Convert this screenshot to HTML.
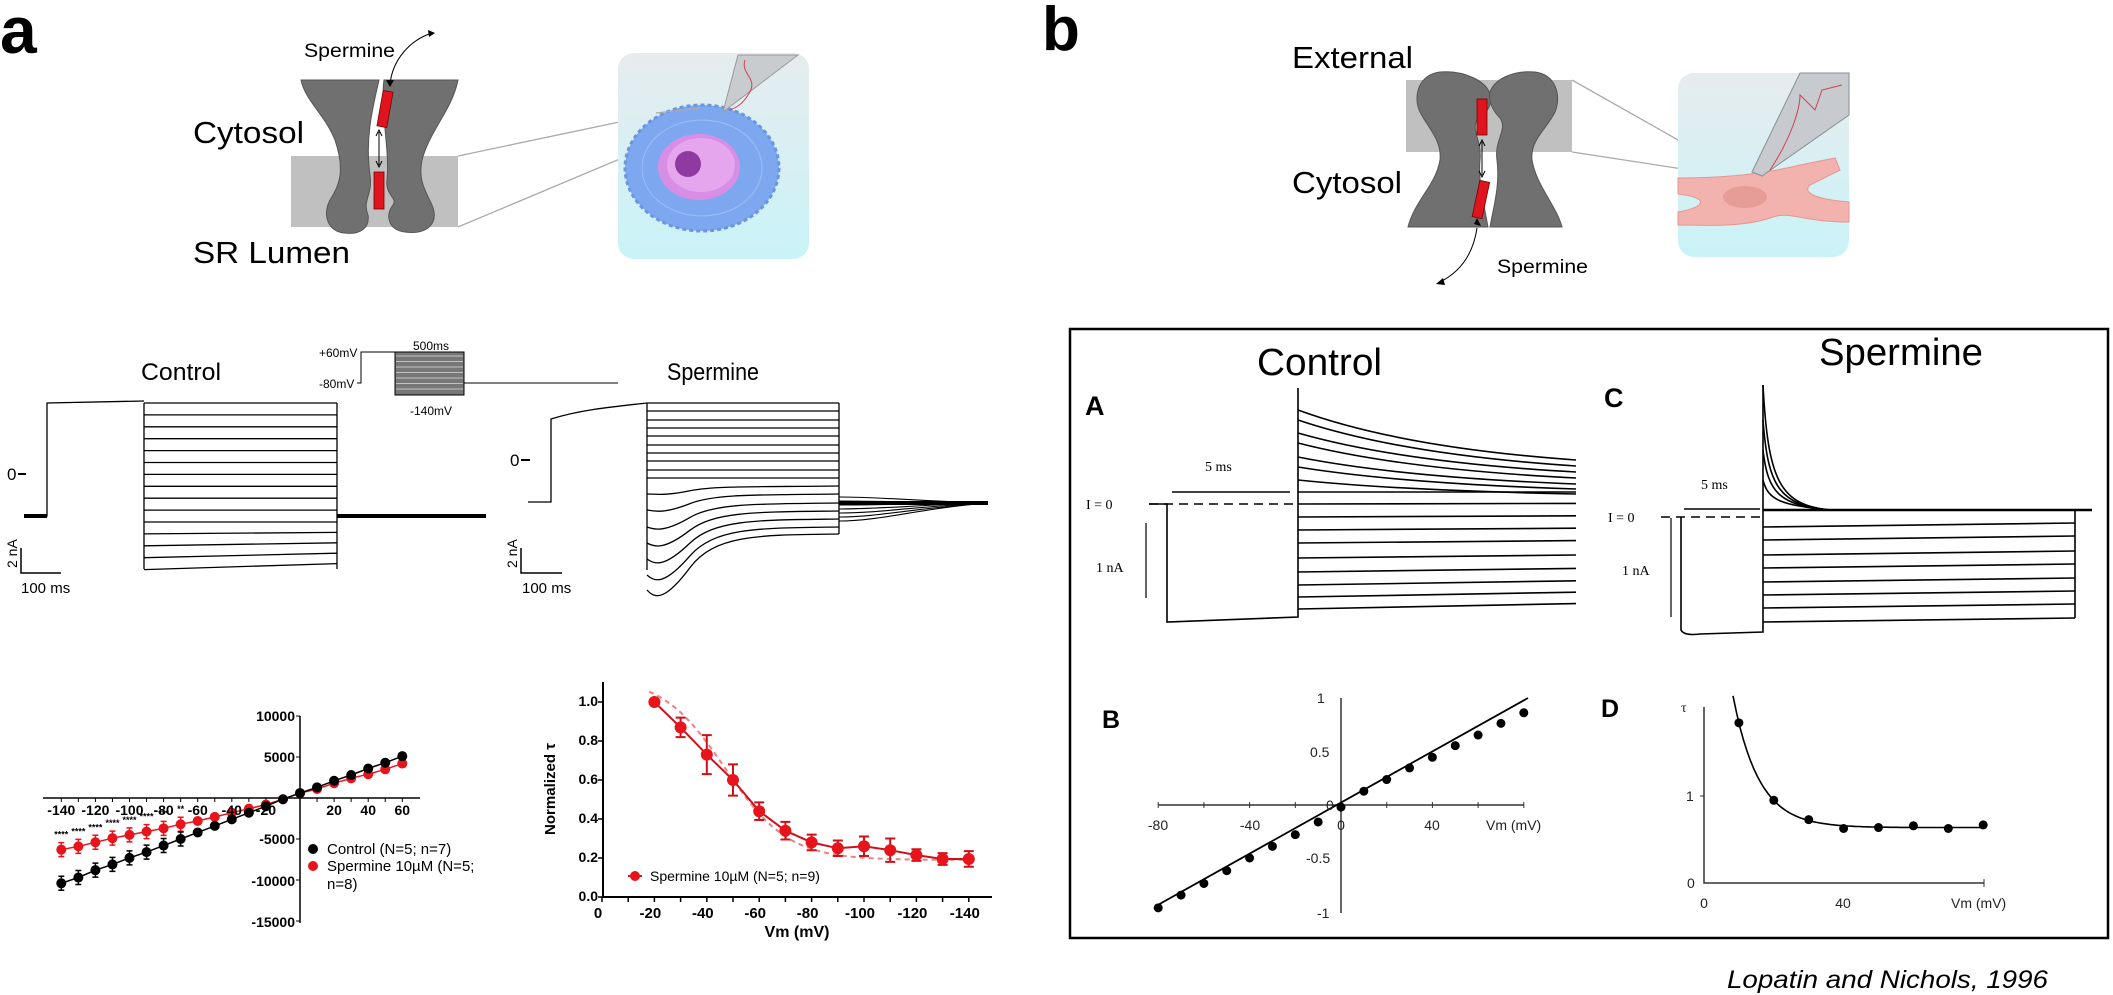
<!DOCTYPE html>
<html><head><meta charset="utf-8">
<style>
html,body{margin:0;padding:0;background:#fff;}
svg{display:block;font-family:"Liberation Sans",Arial,sans-serif;}
</style></head>
<body>
<svg id="s" width="2113" height="995" viewBox="0 0 2113 995" xmlns="http://www.w3.org/2000/svg">
<rect width="2113" height="995" fill="#fff"/>
<defs>
<linearGradient id="bgA" x1="0" y1="0" x2="0" y2="1"><stop offset="0" stop-color="#e6ecee"/><stop offset="1" stop-color="#c9f3f8"/></linearGradient>
</defs>

<text x="0" y="53" font-size="66" font-weight="bold">a</text>
<text x="1042" y="50" font-size="62" font-weight="bold">b</text>

<rect x="291" y="156" width="167" height="71" fill="#c0c0c0"/>
<path d="M301,80 L379,80 C372,110 365,140 370,175 C373,195 362,200 368,215 C370,228 360,235 345,233 C328,232 322,215 330,200 C340,185 345,170 335,140 C325,115 305,100 301,80 Z" fill="#707070" stroke="#555" stroke-width="1"/>
<path d="M384,80 L458,80 C452,110 430,130 422,160 C418,180 425,190 432,205 C440,225 425,235 405,232 C388,230 385,215 393,205 C398,198 385,195 387,180 C390,150 380,110 384,80 Z" fill="#707070" stroke="#555" stroke-width="1"/>
<rect x="380" y="91" width="10" height="36" fill="#e0141e" stroke="#700" stroke-width="0.8" transform="rotate(10 385 109)"/>
<rect x="374" y="172" width="10" height="37" fill="#e0141e" stroke="#700" stroke-width="0.8"/>
<path d="M379,132 L379,165" stroke="#000" stroke-width="1"/>
<path d="M376,136 L379,130 L382,136 M376,161 L379,167 L382,161" fill="none" stroke="#000" stroke-width="1"/>
<path d="M390,85 C392,60 410,40 432,33" fill="none" stroke="#000" stroke-width="1"/>
<path d="M386,80 L390,87 L394,80 Z M428,30 L435,33 L429,37Z" fill="#000"/>
<text x="304" y="57" font-size="19" textLength="91" lengthAdjust="spacingAndGlyphs">Spermine</text>
<text x="193" y="143" font-size="31" textLength="111" lengthAdjust="spacingAndGlyphs">Cytosol</text>
<text x="193" y="263" font-size="31" textLength="157" lengthAdjust="spacingAndGlyphs">SR Lumen</text>
<path d="M458,156 L662,113 M458,227 L665,140" stroke="#aaa" stroke-width="1.3"/>
<rect x="618" y="53" width="191" height="206" rx="16" fill="url(#bgA)"/>
<ellipse cx="702" cy="168" rx="77" ry="63" fill="#7da8f0" stroke="#6b95e0" stroke-width="3" stroke-dasharray="4 3"/>
<ellipse cx="702" cy="168" rx="60" ry="48" fill="none" stroke="#9dbdf5" stroke-width="1"/>
<ellipse cx="699" cy="167" rx="41" ry="33" fill="#d98ee6"/>
<ellipse cx="701" cy="165" rx="34" ry="27" fill="#e5a6ee"/>
<circle cx="688" cy="164" r="13" fill="#8e3aa0"/>
<path d="M723,112 L738,55 L798,55 Z" fill="#c9cccf" stroke="#999" stroke-width="1"/>
<path d="M745,60 C740,75 760,78 748,95 C742,105 735,108 730,110" fill="none" stroke="#d04050" stroke-width="1"/>
<path d="M656,113 L700,108" stroke="#aaa" stroke-width="1.2"/>

<text x="141" y="380" font-size="24" textLength="80" lengthAdjust="spacingAndGlyphs">Control</text>
<text x="667" y="380" font-size="24" textLength="92" lengthAdjust="spacingAndGlyphs">Spermine</text>
<text x="319" y="357" font-size="12">+60mV</text>
<text x="319" y="388" font-size="12">-80mV</text>
<text x="413" y="350" font-size="12">500ms</text>
<text x="410" y="415" font-size="12">-140mV</text>
<path d="M357,383 L361,383 L361,352 L395,352 M464,383 L618,383" fill="none" stroke="#000" stroke-width="1"/>
<rect x="395" y="352" width="69" height="43" fill="#777" stroke="#000" stroke-width="1"/>
<g id="protoLines" stroke="#ddd" stroke-width="0.8"></g>
<g id="ctrlA" fill="none" stroke="#000" stroke-width="1.3"></g>
<g id="sperA" fill="none" stroke="#000" stroke-width="1.3"></g>
<text x="7" y="480" font-size="17">0</text><path d="M18,474 L26,474" stroke="#000" stroke-width="2"/>
<text x="510" y="466" font-size="17">0</text><path d="M521,460 L530,460" stroke="#000" stroke-width="2"/>
<text transform="translate(17,568) rotate(-90)" font-size="14">2 nA</text>
<path d="M21,548 L21,573 L61,573" fill="none" stroke="#000" stroke-width="1.5"/>
<text x="21" y="593" font-size="15">100 ms</text>
<text transform="translate(517,568) rotate(-90)" font-size="14">2 nA</text>
<path d="M521,548 L521,573 L562,573" fill="none" stroke="#000" stroke-width="1.5"/>
<text x="522" y="593" font-size="15">100 ms</text>

<g id="iv"></g>
<g font-size="14" fill="#000" font-weight="bold" text-anchor="end">
<text x="295" y="721">10000</text><text x="295" y="762">5000</text>
<text x="295" y="844">-5000</text><text x="295" y="886">-10000</text><text x="295" y="927">-15000</text>
</g>
<g font-size="14" font-weight="bold" text-anchor="middle" id="ivx"></g>
<circle cx="313" cy="849" r="5"/>
<circle cx="313" cy="866" r="5" fill="#e8141c"/>
<g font-size="15">
<text x="327" y="854">Control (N=5; n=7)</text>
<text x="327" y="871">Spermine 10µM  (N=5;</text>
<text x="327" y="889">n=8)</text>
</g>

<g id="tau"></g>
<g font-size="14" font-weight="bold" text-anchor="end">
<text x="598" y="706">1.0</text><text x="598" y="745">0.8</text><text x="598" y="784">0.6</text>
<text x="598" y="823">0.4</text><text x="598" y="862">0.2</text><text x="598" y="901">0.0</text>
</g>
<g font-size="15" font-weight="bold" text-anchor="middle" id="taux"></g>
<text transform="translate(555,835) rotate(-90)" font-size="15" font-weight="bold" textLength="92" lengthAdjust="spacingAndGlyphs">Normalized τ</text>
<text x="797" y="937" font-size="16" font-weight="bold" text-anchor="middle">Vm (mV)</text>
<path d="M628,876 L642,876" stroke="#e8141c" stroke-width="2"/><circle cx="635" cy="876" r="5" fill="#e8141c"/>
<text x="650" y="881" font-size="14">Spermine 10µM (N=5; n=9)</text>

<rect x="1406" y="80" width="166" height="72" fill="#c0c0c0"/>
<path d="M1440,72 C1420,74 1412,95 1420,112 C1428,128 1442,140 1440,160 C1436,185 1415,200 1408,227 L1488,227 C1484,205 1478,180 1480,160 C1482,140 1470,130 1478,118 C1488,112 1492,105 1490,95 C1488,82 1465,70 1440,72 Z" fill="#707070" stroke="#555" stroke-width="1"/>
<path d="M1535,72 C1555,74 1562,95 1555,112 C1546,130 1530,140 1532,160 C1536,185 1556,205 1562,227 L1490,227 C1494,205 1500,185 1497,160 C1494,140 1508,130 1500,118 C1492,110 1488,100 1490,92 C1494,80 1512,70 1535,72 Z" fill="#707070" stroke="#555" stroke-width="1"/>
<rect x="1477" y="99" width="10" height="36" fill="#e0141e" stroke="#700" stroke-width="0.8"/>
<rect x="1476" y="181" width="10" height="37" fill="#e0141e" stroke="#700" stroke-width="0.8" transform="rotate(12 1481 199)"/>
<path d="M1482,142 L1482,175" stroke="#000" stroke-width="1"/>
<path d="M1479,146 L1482,140 L1485,146 M1479,171 L1482,177 L1485,171" fill="none" stroke="#000" stroke-width="1"/>
<path d="M1477,228 C1473,255 1460,272 1440,282" fill="none" stroke="#000" stroke-width="1"/>
<path d="M1474,224 L1477,218 L1481,226Z M1443,278 L1436,284 L1445,285Z" fill="#000"/>
<text x="1292" y="68" font-size="31" textLength="121" lengthAdjust="spacingAndGlyphs">External</text>
<text x="1292" y="193" font-size="31" textLength="110" lengthAdjust="spacingAndGlyphs">Cytosol</text>
<text x="1497" y="273" font-size="19" textLength="91" lengthAdjust="spacingAndGlyphs">Spermine</text>
<path d="M1572,80 L1740,175 M1572,152 L1735,177" stroke="#aaa" stroke-width="1.3"/>
<rect x="1678" y="73" width="171" height="184" rx="16" fill="url(#bgA)"/>
<path d="M1678,178 C1720,178 1760,175 1800,165 L1835,158 L1840,170 L1810,185 C1800,195 1825,200 1849,202 L1849,222 C1800,222 1790,210 1770,218 C1740,228 1700,225 1678,225 L1678,212 C1700,208 1712,200 1685,195 L1678,194 Z" fill="#f2b3ae" stroke="#e49690" stroke-width="1"/>
<ellipse cx="1745" cy="197" rx="22" ry="11" fill="#e69d98"/>
<path d="M1752,172 L1800,73 L1849,73 L1849,115 L1762,176 Z" fill="#c7cbcf" stroke="#8a8f94" stroke-width="1"/>
<path d="M1770,170 C1790,140 1800,110 1800,95 L1815,110 L1822,90 L1842,85" fill="none" stroke="#d04050" stroke-width="1"/>

<rect x="1070" y="329" width="1038" height="609" fill="none" stroke="#000" stroke-width="2.5"/>
<text x="1257" y="375" font-size="38" textLength="125" lengthAdjust="spacingAndGlyphs">Control</text>
<text x="1819" y="365" font-size="38" textLength="164" lengthAdjust="spacingAndGlyphs">Spermine</text>
<text x="1085" y="415" font-size="27" font-weight="bold">A</text>
<text x="1604" y="407" font-size="27" font-weight="bold">C</text>
<text x="1102" y="728" font-size="25" font-weight="bold">B</text>
<text x="1601" y="717" font-size="25" font-weight="bold">D</text>
<g font-family="Liberation Serif,serif" font-size="14">
<text x="1086" y="509">I = 0</text>
<text x="1205" y="471">5 ms</text>
<text x="1096" y="572">1 nA</text>
<text x="1608" y="522">I = 0</text>
<text x="1701" y="489">5 ms</text>
<text x="1622" y="575">1 nA</text>
</g>
<g id="bA" fill="none" stroke="#000" stroke-width="1.6"></g>
<g id="bC" fill="none" stroke="#000" stroke-width="1.6"></g>
<g id="bB"></g>
<g id="bD"></g>
<g font-family="Liberation Sans Narrow,Liberation Sans,sans-serif" font-size="14" fill="#222">
<text x="1317" y="703">1</text>
<text x="1310" y="757">0.5</text>
<text x="1326" y="810">0</text>
<text x="1306" y="863">-0.5</text>
<text x="1317" y="918">-1</text>
<text x="1158" y="830" text-anchor="middle">-80</text>
<text x="1250" y="830" text-anchor="middle">-40</text>
<text x="1341" y="830" text-anchor="middle">0</text>
<text x="1432" y="830" text-anchor="middle">40</text>
<text x="1486" y="830">Vm (mV)</text>
<text x="1681" y="712" font-family="Liberation Serif,serif">τ</text>
<text x="1686" y="801">1</text>
<text x="1687" y="888">0</text>
<text x="1704" y="908" text-anchor="middle">0</text>
<text x="1843" y="908" text-anchor="middle">40</text>
<text x="1951" y="908">Vm (mV)</text>
</g>
<text x="1727" y="988" font-size="25" font-style="italic" textLength="321" lengthAdjust="spacingAndGlyphs">Lopatin and Nichols, 1996</text>
</svg>
<script>
const NS="http://www.w3.org/2000/svg";
function el(par,tag,attrs){const e=document.createElementNS(NS,tag);for(const k in attrs)e.setAttribute(k,attrs[k]);document.getElementById(par).appendChild(e);return e;}
function P(par,d,extra){return el(par,"path",Object.assign({d:d},extra||{}));}
for(let i=0;i<7;i++){P("protoLines","M396,"+(356+i*5.5)+" L463,"+(356+i*5.5));}
P("ctrlA","M24,516 L47,516 L47,403 L144,401",{});
P("ctrlA","M24,516 L47,516",{ "stroke-width":4});
for(let i=0;i<15;i++){let y=403+i*11.9;let d="M144,"+y.toFixed(1)+" L337,"+(y-(i>10?(i-10)*1.5:0)).toFixed(1);P("ctrlA",d);}
P("ctrlA","M144,403 L144,569 M337,403 L337,569");
P("ctrlA","M337,516 L486,516",{"stroke-width":4});
P("sperA","M528,502 L551,502 L551,419 C580,410 610,407 647,403");
const flat=[403,411,420,428,436,445,453,461,470,478];
flat.forEach(y=>P("sperA","M647,"+y+" L839,"+y));
const ends=[486,494,503,511,519,527,534];
for(let i=0;i<7;i++){const e=ends[i];const s=e+8+i*8;const dip=s+i*1.5;
 P("sperA","M647,"+s+" C655,"+dip+" 665,"+(dip+2)+" 690,"+(e+(s-e)*0.6)+" S760,"+(e+1)+" 839,"+e);}
P("sperA","M647,403 L647,570 M839,403 L839,534");
for(let i=0;i<7;i++){const y0=497+i*4;P("sperA","M839,"+y0+" C880,"+y0+" 920,"+(503+(y0-503)*0.3)+" 988,503",{"stroke-width":1.1});}
P("sperA","M839,503 L988,503",{"stroke-width":4});
const xv=v=>300+v*1.705, yI=I=>798-I*0.0082;
P("iv","M43,798 L420,798 M300,716 L300,923",{stroke:"#000","stroke-width":1.5,fill:"none"});
for(let v=-140;v<=60;v+=10){P("iv","M"+xv(v)+",798 L"+xv(v)+",802",{stroke:"#000","stroke-width":1});}
[10000,5000,-5000,-10000,-15000].forEach(I=>P("iv","M296,"+yI(I)+" L300,"+yI(I),{stroke:"#000"}));
[-140,-120,-100,-80,-60,-40,-20,20,40,60].forEach(v=>{const t=el("ivx","text",{x:xv(v),y:815});t.textContent=v;});
const ctl={"-140":-10400,"-130":-9700,"-120":-8800,"-110":-8100,"-100":-7300,"-90":-6600,"-80":-5800,"-70":-5000,"-60":-4200,"-50":-3400,"-40":-2600,"-30":-1800,"-20":-1000,"-10":-150,"0":600,"10":1300,"20":2100,"30":2800,"40":3600,"50":4300,"60":5100};
const spm={"-140":-6300,"-130":-5900,"-120":-5400,"-110":-4900,"-100":-4500,"-90":-4100,"-80":-3700,"-70":-3200,"-60":-2800,"-50":-2300,"-40":-1800,"-30":-1300,"-20":-800,"-10":-150,"0":600,"10":1100,"20":1800,"30":2400,"40":2900,"50":3500,"60":4200};
function series(data,col){let d="";for(let v=-140;v<=60;v+=10){d+=(v==-140?"M":"L")+xv(v).toFixed(1)+","+yI(data[v]).toFixed(1);}
 P("iv",d,{stroke:col,"stroke-width":1.5,fill:"none"});
 for(let v=-140;v<=60;v+=10){const x=xv(v),y=yI(data[v]);const e=v<-60?7:3;P("iv","M"+x+","+(y-e)+" L"+x+","+(y+e)+" M"+(x-3)+","+(y-e)+" L"+(x+3)+","+(y-e)+" M"+(x-3)+","+(y+e)+" L"+(x+3)+","+(y+e),{stroke:col,"stroke-width":1.5});
 el("iv","circle",{cx:x,cy:y,r:5,fill:col});}}
series(spm,"#e8141c");series(ctl,"#000");
const stars={"-140":"****","-130":"****","-120":"****","-110":"****","-100":"****","-90":"****","-80":"***","-70":"**"};
for(const v in stars){const t=el("iv","text",{x:xv(+v),y:yI(spm[v])-12,"font-size":9,"text-anchor":"middle","font-weight":"bold"});t.textContent=stars[v];}
const xt=v=>602-v*2.62, yt=t=>897-195*t;
P("tau","M603,682 L603,897 L992,897",{stroke:"#000","stroke-width":2,fill:"none"});
for(let t=0;t<=1.0001;t+=0.2)P("tau","M598,"+yt(t)+" L603,"+yt(t),{stroke:"#000","stroke-width":1.5});
for(let v=0;v>=-140;v-=10)P("tau","M"+xt(v)+",897 L"+xt(v)+",902",{stroke:"#000","stroke-width":1.5});
[0,-20,-40,-60,-80,-100,-120,-140].forEach(v=>{const t=el("taux","text",{x:xt(v)-4,y:918});t.textContent=v;});
const tv=[[-20,1,0.01],[-30,.87,.05],[-40,.73,.1],[-50,.6,.08],[-60,.44,.045],[-70,.34,.045],[-80,.28,.04],[-90,.25,.04],[-100,.26,.05],[-110,.24,.06],[-120,.215,.03],[-130,.195,.03],[-140,.195,.04]];
let dd="";tv.forEach((p,i)=>dd+=(i?"L":"M")+xt(p[0]).toFixed(1)+","+yt(p[1]).toFixed(1));
let fd="";for(let v=-18;v>=-140;v-=2){const t=0.19+0.94/(1+Math.exp((-v-47)/12));fd+=(v==-18?"M":"L")+xt(v).toFixed(1)+","+yt(t).toFixed(1);}
P("tau",fd,{stroke:"#f08080","stroke-width":2,"stroke-dasharray":"5 4",fill:"none"});
P("tau",dd,{stroke:"#d01018","stroke-width":2,fill:"none"});
tv.forEach(p=>{const x=xt(p[0]),y=yt(p[1]),e=p[2]*195;P("tau","M"+x+","+(y-e)+" L"+x+","+(y+e)+" M"+(x-5)+","+(y-e)+" L"+(x+5)+","+(y-e)+" M"+(x-5)+","+(y+e)+" L"+(x+5)+","+(y+e),{stroke:"#d01018","stroke-width":2});el("tau","circle",{cx:x,cy:y,r:6,fill:"#e8141c"});});
P("bA","M1149,504 L1297,504",{"stroke-dasharray":"9 6"});
P("bA","M1172,492 L1290,492");
P("bA","M1146,523 L1146,598",{"stroke-width":1.2});
P("bA","M1149,504 L1167,504 L1167,622 L1298,617 L1298,388");
const dec=[[410,460],[420,466],[433,472],[443,478],[457,484],[467,489],[480,494]];
dec.forEach(p=>P("bA","M1298,"+p[0]+" Q1400,"+(p[0]+(p[1]-p[0])*0.75)+" 1576,"+p[1]));
[492,504,517,530,543,558,572,585,597,609].forEach((y,i)=>P("bA","M1298,"+y+" L1576,"+(y-i*0.6)));
P("bC","M1661,517 L1763,517",{"stroke-dasharray":"9 6"});
P("bC","M1684,509 L1760,509");
P("bC","M1671,518 L1671,617",{"stroke-width":1.2});
P("bC","M1681,517 L1681,630 Q1684,636 1700,634 L1763,632 L1763,385");
[385,420,450,480].forEach(s=>P("bC","M1763,"+s+" C1768,"+(s+(505-s)*0.8)+" 1780,505 1830,510"));
P("bC","M1763,510 L2092,510",{"stroke-width":2.5});
[527,540,555,568,582,595,608,622].forEach(y=>P("bC","M1763,"+y+" L2075,"+(y-4)));
P("bC","M2075,510 L2075,618");
const xb=v=>1341+v*2.285, yb=i=>805-i*106;
P("bB","M1158,805 L1524,805 M1341,698 L1341,913",{stroke:"#333","stroke-width":1.5,fill:"none"});
for(let v=-80;v<=80;v+=20)P("bB","M"+xb(v)+",802 L"+xb(v)+",808",{stroke:"#333"});
P("bB","M1156,906 L1528,698",{stroke:"#000","stroke-width":1.8});
const bp={"-80":-0.97,"-70":-0.85,"-60":-0.74,"-50":-0.62,"-40":-0.5,"-30":-0.39,"-20":-0.28,"-10":-0.16,"0":-0.02,"10":0.13,"20":0.24,"30":0.35,"40":0.45,"50":0.56,"60":0.66,"70":0.77,"80":0.87};
for(const v in bp)el("bB","circle",{cx:xb(+v),cy:yb(bp[v]),r:4.5,fill:"#000"});
const xd=v=>1704+v*3.49, yd=t=>883-t*88;
P("bD","M1704,707 L1704,883 L1984,883",{stroke:"#333","stroke-width":1.5,fill:"none"});
P("bD","M1700,796 L1704,796 M1984,879 L1984,887",{stroke:"#333"});
let cd="";for(let v=8.3;v<=80;v+=1){const t=0.63+1.19*Math.exp(-(v-10)/7.4);cd+=(v==8.3?"M":"L")+xd(v).toFixed(1)+","+yd(t).toFixed(1);}
P("bD",cd,{stroke:"#000","stroke-width":1.6,fill:"none"});
[[10,1.82],[20,0.94],[30,0.72],[40,0.62],[50,0.63],[60,0.65],[70,0.62],[80,0.66]].forEach(p=>el("bD","circle",{cx:xd(p[0]),cy:yd(p[1]),r:4.5,fill:"#000"}));
</script>
</body></html>
